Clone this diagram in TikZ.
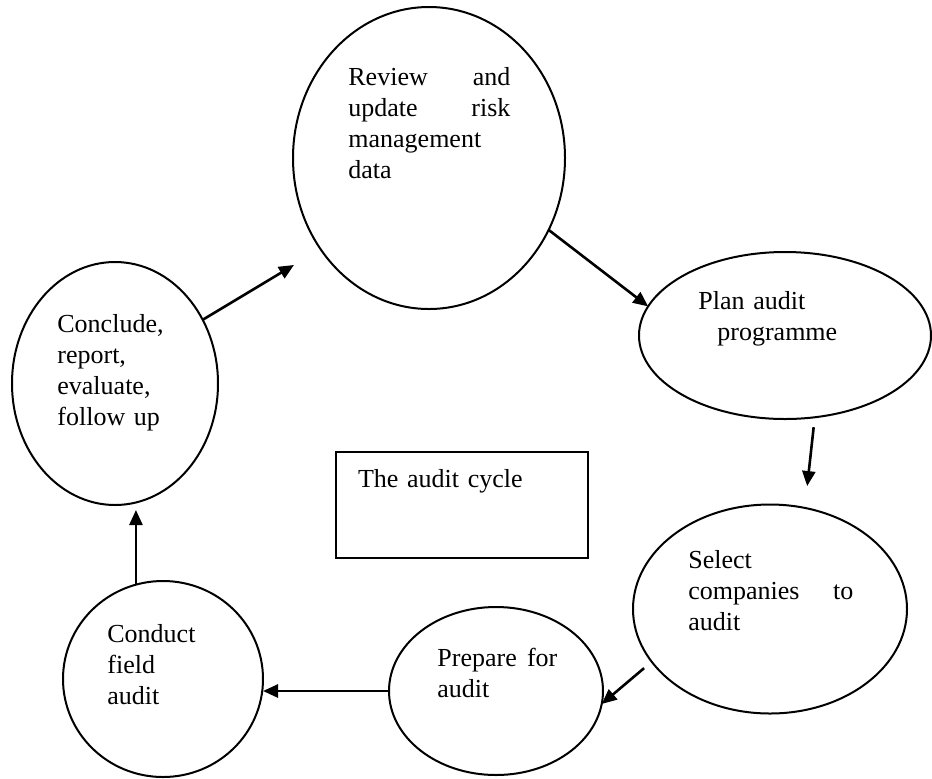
\documentclass[tikz,border=0pt]{standalone}
\usepackage{fontspec}
\setmainfont{Liberation Serif}
\usepackage{tikz}
\usetikzlibrary{arrows.meta}
\usetikzlibrary{shapes.geometric}

\begin{document}
\begin{tikzpicture}[auto, x=0.5pt, y=-0.5pt]
    \tikzstyle{stage} = [ellipse, draw, line width=1pt, inner sep=0pt, outer sep=0pt];
    \tikzstyle{words} = [align=left, inner sep=0pt, anchor=base west, style={font=\fontsize{13pt}{15.5pt}\selectfont}];
    \tikzstyle{line} = [draw, line width=1.3pt, -{Triangle[length=7.5pt, width=6.5pt]}];
    \useasboundingbox (0,0) rectangle (932,778);
    % the six stages
    \node[stage, minimum width=136pt, minimum height=151pt] (review) at (429,158) {};
    \node[stage, minimum width=146pt, minimum height=83.5pt] (plan) at (785,335.5) {};
    \node[stage, minimum width=137pt, minimum height=104.5pt] (select) at (770,609) {};
    \node[stage, minimum width=107pt, minimum height=84pt] (prep) at (496,691) {};
    \node[stage, minimum width=100pt, minimum height=98pt] (field) at (163,679) {};
    \node[stage, minimum width=103pt, minimum height=121.5pt] (conclude) at (115,383.5) {};
    \node[words, draw, anchor=center, line width=1pt, text width=104pt, inner xsep=11pt, inner ysep=0pt, text height=17.5pt, text depth=35.5pt] (cycle) at (462,505) {The audit cycle};
    % texts
    \node[words, text width=81pt] (review_t) at (348,85) {Review\hfill and\\update\hfill risk\\management\\data};
    \node[words, text width=80pt] (plan_t) at (698,309) {Plan audit\\\hspace*{9.5pt}programme};
    \node[words, text width=82.5pt] (select_t) at (688,568) {Select\\companies\hfill to\\audit};
    \node[words, text width=60pt] (prep_t) at (437,666) {Prepare\hfill for\\audit};
    \node[words, text width=50pt] (field_t) at (107,642) {Conduct\\field\\audit};
    \node[words, text width=60pt] (conclude_t) at (57,332) {Conclude,\\report,\\evaluate,\\follow up};
    \tikzstyle{every path}=[line]
    \path[shorten >=15.5pt] (conclude.36) -- (review.220);
    \path (review.-31) -- (plan.168);
    \path[shorten <=5pt, shorten >=11pt] (plan.-70) -- (select.71);
    \path[shorten <=5pt] (select.204) -- (prep.-7);
    \path (prep.west) -- (prep.west -| field.east);
    \path[shorten >=2.5pt] (field.106) -- (field.106 |- conclude.south);
\end{tikzpicture}
\end{document}
